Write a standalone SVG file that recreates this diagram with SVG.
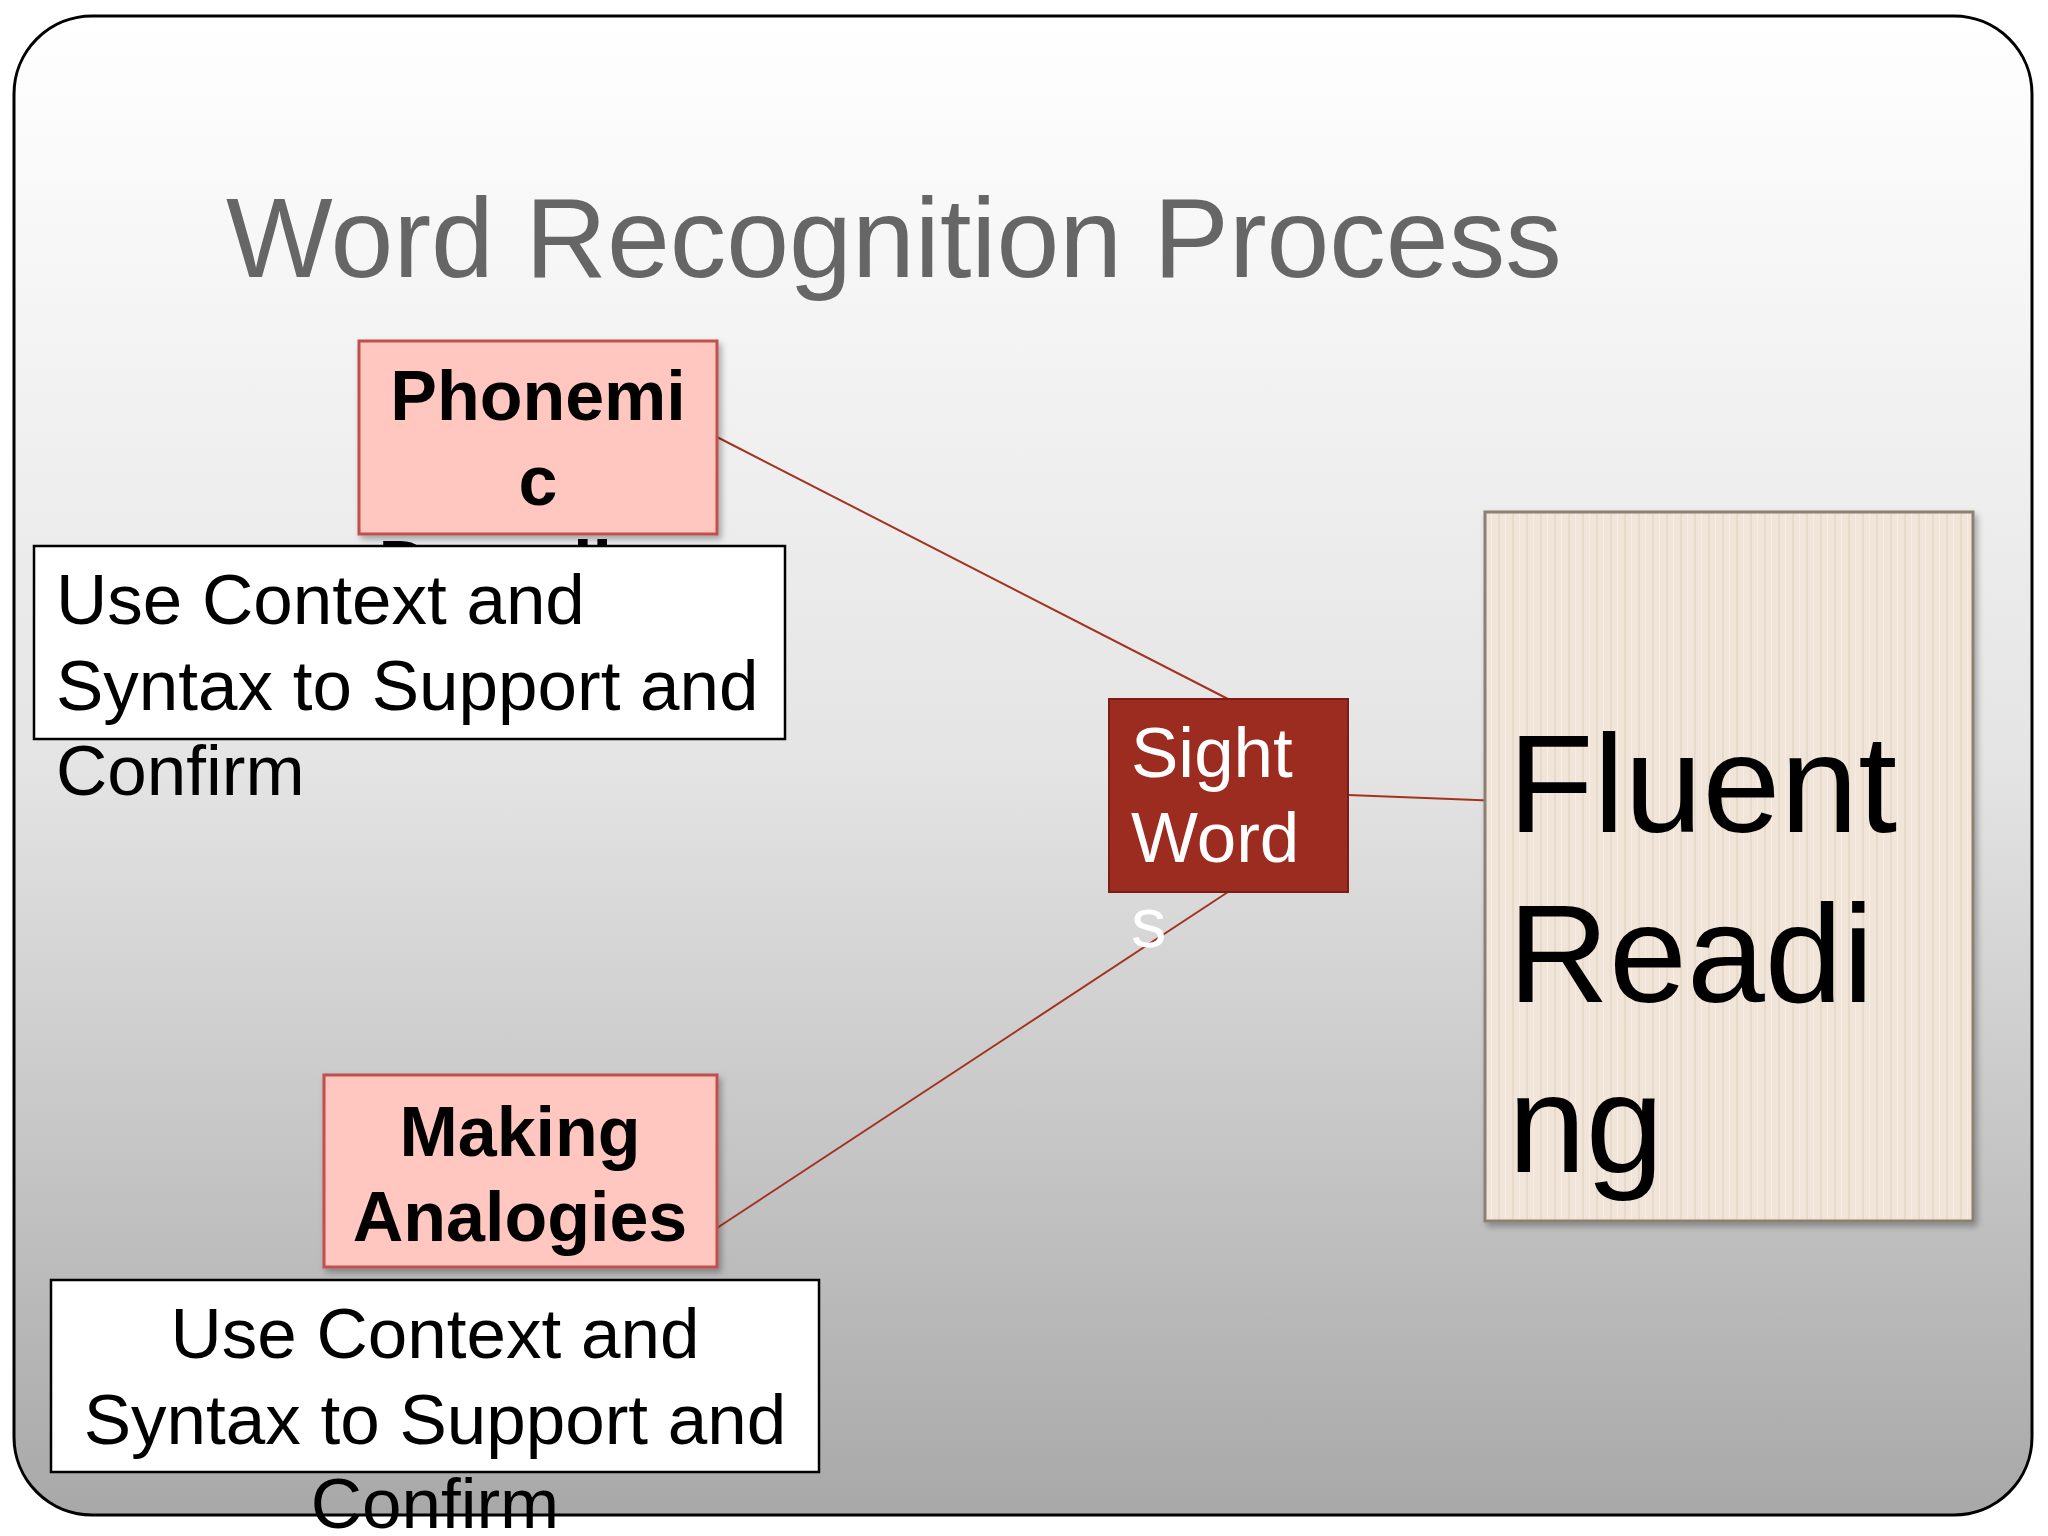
<svg xmlns="http://www.w3.org/2000/svg" width="2048" height="1536" viewBox="0 0 2048 1536">
<defs>
<linearGradient id="bg" x1="0" y1="0" x2="0" y2="1">
<stop offset="0" stop-color="#ffffff"/><stop offset="0.5" stop-color="#e4e4e4"/><stop offset="1" stop-color="#a9a8a9"/>
</linearGradient>
<pattern id="stripes" width="14" height="10" patternUnits="userSpaceOnUse">
<rect width="14" height="10" fill="#f0e5d8"/><rect x="0" width="2" height="10" fill="#e6dacb"/><rect x="7" width="1" height="10" fill="#f6eee4"/>
</pattern>
<filter id="sh" x="-10%" y="-10%" width="130%" height="130%"><feDropShadow dx="3" dy="4" stdDeviation="3" flood-color="#000" flood-opacity="0.3"/></filter>
</defs>
<style>
.pink{fill:#ffc7c0;stroke:#c0504d;stroke-width:3}
.white{fill:#fff;stroke:#000;stroke-width:2.5}
.bt{font-family:"Liberation Sans",Arial,sans-serif;font-weight:bold;font-size:70px;fill:#000}
.t{font-family:"Liberation Sans",Arial,sans-serif;font-size:71px;fill:#000}
.conn line{stroke:#a3321e;stroke-width:2}
</style>
<rect x="14" y="16" width="2018" height="1499" rx="78" fill="url(#bg)" stroke="#000" stroke-width="3"/>
<text x="226" y="277" font-family="'Liberation Sans',Arial,sans-serif" font-size="113" fill="#666">Word Recognition Process</text>
<g class="conn">
<line x1="717" y1="437" x2="1228" y2="699"/>
<line x1="1348" y1="795" x2="1502" y2="801"/>
<line x1="1228" y1="892" x2="717" y2="1228"/>
</g>
<g id="phonemic">
<rect class="pink" x="359" y="341" width="358" height="193" filter="url(#sh)"/>
<text class="bt" text-anchor="middle" x="538" y="420">Phonemi</text>
<text class="bt" text-anchor="middle" x="538" y="505">c</text>
<text class="bt" text-anchor="middle" x="538" y="590">Decoding</text>
</g>
<g id="context1">
<rect class="white" x="34" y="546" width="751" height="193"/>
<text class="t" x="56" y="624">Use Context and</text>
<text class="t" x="56" y="710">Syntax to Support and</text>
<text class="t" x="56" y="795">Confirm</text>
</g>
<g id="sight">
<rect x="1109" y="699" width="239" height="193" fill="#9c2b20" stroke="#7a1e15" stroke-width="2"/>
<text class="t" style="fill:#fff" x="1131" y="777">Sight</text>
<text class="t" style="fill:#fff" x="1131" y="862">Word</text>
<text class="t" style="fill:#fff" x="1131" y="947">s</text>
</g>
<g id="fluent">
<rect x="1485" y="512" width="488" height="709" fill="url(#stripes)" stroke="#8a8170" stroke-width="3" filter="url(#sh)"/>
<text class="t" style="font-size:140px" x="1508" y="832">Fluent</text>
<text class="t" style="font-size:140px" x="1508" y="1002">Readi</text>
<text class="t" style="font-size:140px" x="1508" y="1172">ng</text>
</g>
<g id="analogies">
<rect class="pink" x="324" y="1075" width="393" height="192" filter="url(#sh)"/>
<text class="bt" text-anchor="middle" x="520" y="1156">Making</text>
<text class="bt" text-anchor="middle" x="520" y="1241">Analogies</text>
</g>
<g id="context2">
<rect class="white" x="51" y="1280" width="768" height="192"/>
<text class="t" text-anchor="middle" x="435" y="1358">Use Context and</text>
<text class="t" text-anchor="middle" x="435" y="1444">Syntax to Support and</text>
<text class="t" text-anchor="middle" x="435" y="1528">Confirm</text>
</g>
</svg>
